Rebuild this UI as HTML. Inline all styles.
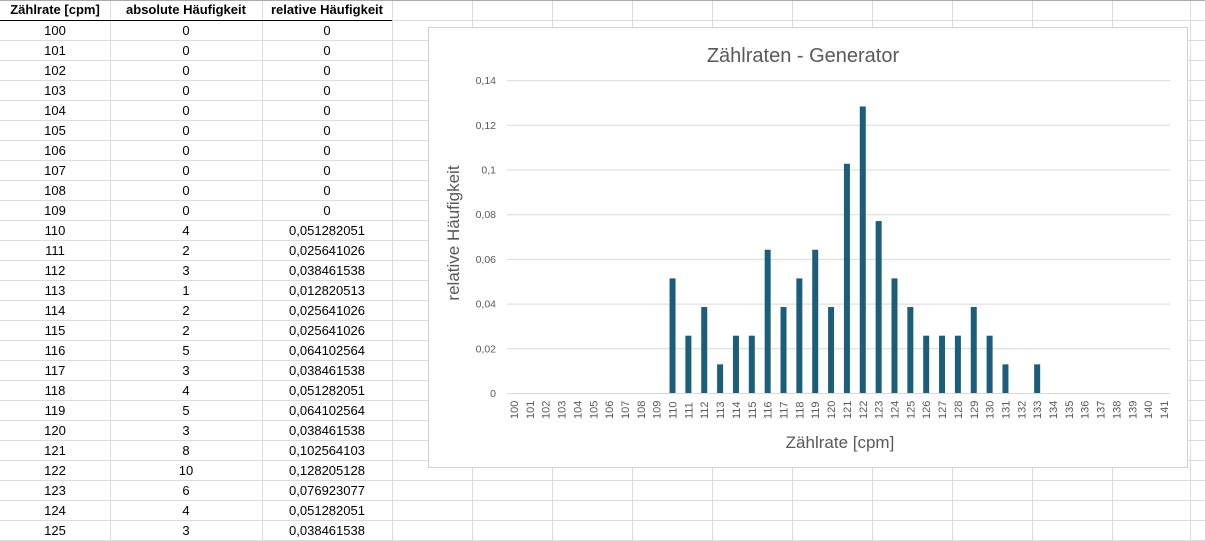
<!DOCTYPE html>
<html><head><meta charset="utf-8"><style>
body{margin:0;width:1205px;height:541px;overflow:hidden;background:#fff;font-family:"Liberation Sans",sans-serif;position:relative}
.t{position:absolute;font-size:13px;color:#000;text-align:center;line-height:20px;height:20px}
</style></head><body>
<svg width="1205" height="541" style="position:absolute;left:0;top:0" xmlns="http://www.w3.org/2000/svg">
<g stroke="#dcdcdc" stroke-width="1" id="grid"></g>
<line x1="0" y1="0.5" x2="1205" y2="0.5" stroke="#aaa"/>
<line x1="0" y1="20.5" x2="392" y2="20.5" stroke="#000"/>
<rect x="428.5" y="27.5" width="759" height="440" fill="#fff" stroke="#d0d0d0"/>
<text x="803" y="62" font-size="20" fill="#595959" text-anchor="middle" font-family="Liberation Sans, sans-serif">Zählraten - Generator</text>
<g id="chart"></g>
<text x="840" y="448" font-size="17" fill="#595959" text-anchor="middle">Zählrate [cpm]</text>
<text transform="translate(459,233) rotate(-90)" font-size="17" fill="#595959" text-anchor="middle">relative Häufigkeit</text>
</svg>
<div id="tbl"></div>
<script>
var g=document.getElementById('grid'),s='';
var vx=[110,262,392,472,552,632,712,792,872,952,1032,1112,1190];
vx.forEach(function(x){s+='<line x1="'+(x+.5)+'" y1="0" x2="'+(x+.5)+'" y2="541"/>';});
for(var r=1;r<=27;r++){var y=20*r+.5;s+='<line x1="0" y1="'+y+'" x2="1205" y2="'+y+'"/>';}
g.innerHTML=s;
var abs=[0,0,0,0,0,0,0,0,0,0,4,2,3,1,2,2,5,3,4,5,3,8,10,6,4,3,2,2,2,3,2,1,0,1,0,0,0,0,0,0,0,0];
var rel={4:'0,051282051',2:'0,025641026',3:'0,038461538',1:'0,012820513',5:'0,064102564',8:'0,102564103',10:'0,128205128',6:'0,076923077'};
var c='';
var y0=393,k=44.7/0.02,x0=514,dx=650/41;
for(var i=0;i<=7;i++){var yy=y0-i*44.7;c+='<line x1="507" y1="'+(yy+.5)+'" x2="1170" y2="'+(yy+.5)+'" stroke="#d9d9d9"/>';
c+='<text x="496" y="'+(yy+4)+'" font-size="10.5" fill="#595959" text-anchor="end">'+(i==0?'0':('0,'+(i*2<10?'0':'')+(i*2)).replace(/0$/,'')) +'</text>';}
for(var i=0;i<42;i++){var x=x0+i*dx;var h=abs[i]/78*k;
if(h>0)c+='<rect x="'+(x-3)+'" y="'+(y0-h)+'" width="6" height="'+h+'" fill="#1b5e7b"/>';
c+='<text transform="translate('+(x+4)+',419) rotate(-90)" font-size="11" fill="#595959">'+(100+i)+'</text>';}
document.getElementById('chart').innerHTML=c;
var t='';
t+='<div class="t" style="left:0;top:0;width:110px;font-weight:bold">Zählrate [cpm]</div>';
t+='<div class="t" style="left:110px;top:0;width:152px;font-weight:bold">absolute Häufigkeit</div>';
t+='<div class="t" style="left:262px;top:0;width:130px;font-weight:bold">relative Häufigkeit</div>';
for(var i=0;i<26;i++){var y=20+i*20+1;var a=abs[i];
t+='<div class="t" style="left:0;top:'+y+'px;width:110px">'+(100+i)+'</div>';
t+='<div class="t" style="left:110px;top:'+y+'px;width:152px">'+a+'</div>';
t+='<div class="t" style="left:262px;top:'+y+'px;width:130px">'+(a?rel[a]:'0')+'</div>';}
document.getElementById('tbl').innerHTML=t;
</script>
</body></html>
